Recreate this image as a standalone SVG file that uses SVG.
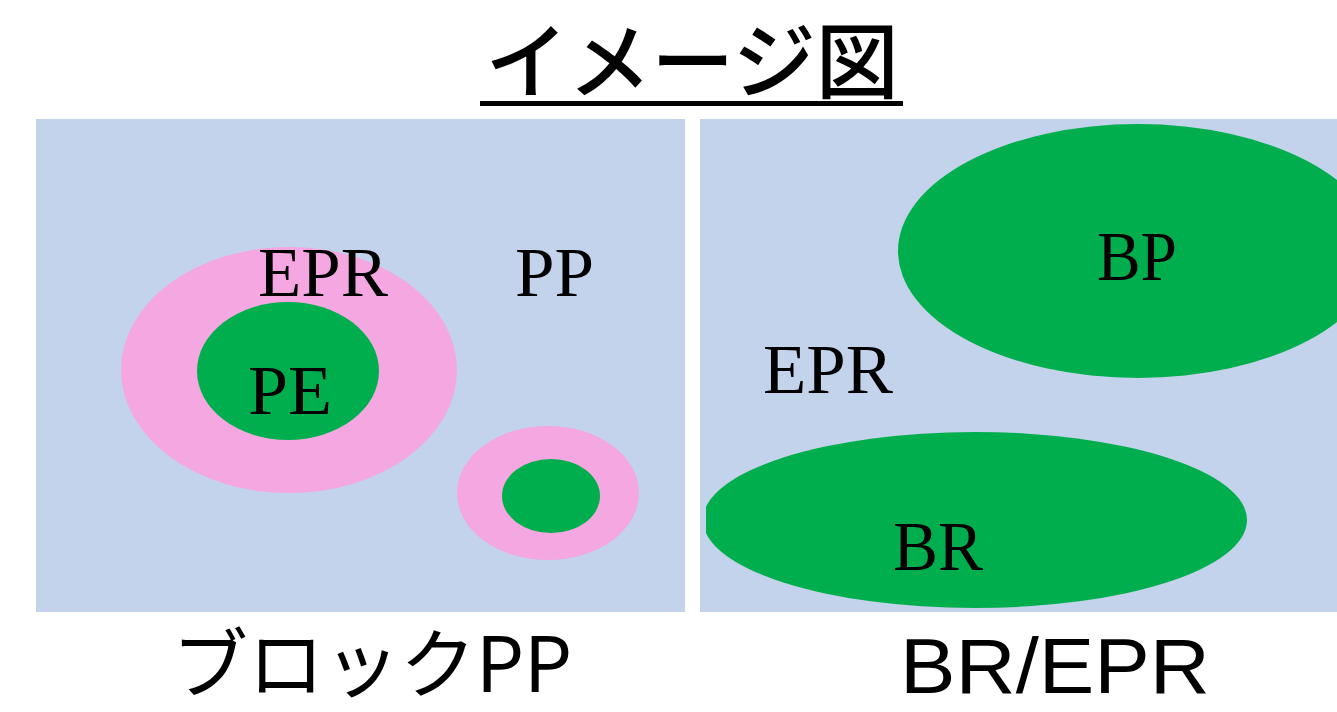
<svg xmlns="http://www.w3.org/2000/svg" width="1337" height="712" viewBox="0 0 1337 712">
<style>
.panel{fill:#c3d3ec}
.pink{fill:#f4a7e1}
.green{fill:#00ae4e}
.lbl{font-family:"Liberation Serif","Times New Roman",serif;font-size:70px;fill:#000}
.cap{font-family:"Noto Sans CJK JP","Noto Sans",sans-serif;font-size:76px;fill:#000}
.capl{font-family:"Liberation Sans",Arial,sans-serif;font-size:78px;fill:#000}
</style>
<defs>
<clipPath id="cr"><rect x="706" y="119" width="631" height="489"/></clipPath>
</defs>
<rect width="1337" height="712" fill="#fff"/>
<g id="title">
<text x="692" y="92" text-anchor="middle" style="font-family:'Noto Sans CJK JP',sans-serif;font-size:83px;font-weight:500">イメージ図</text>
<rect x="480" y="101" width="423" height="5" fill="#000"/>
</g>
<g id="block-pp">
<rect class="panel" x="36" y="119" width="649" height="493"/>
<ellipse class="pink" cx="289" cy="370" rx="168" ry="123"/>
<ellipse class="green" cx="288" cy="371" rx="91" ry="69"/>
<ellipse class="pink" cx="548" cy="493" rx="91" ry="67"/>
<ellipse class="green" cx="551" cy="496" rx="49" ry="37"/>
<text class="lbl" x="258" y="296" textLength="130" lengthAdjust="spacingAndGlyphs">EPR</text>
<text class="lbl" x="515" y="296" textLength="79" lengthAdjust="spacingAndGlyphs">PP</text>
<text class="lbl" x="248" y="414" textLength="84" lengthAdjust="spacingAndGlyphs">PE</text>
<text class="cap" x="372" y="692" text-anchor="middle">ブロックPP</text>
</g>
<g id="br-epr">
<rect class="panel" x="700" y="119" width="637" height="493"/>
<g clip-path="url(#cr)">
<ellipse class="green" cx="1138" cy="251" rx="240" ry="127"/>
<ellipse class="green" cx="975" cy="520" rx="272" ry="88"/>
</g>
<text class="lbl" x="763" y="393" textLength="130" lengthAdjust="spacingAndGlyphs">EPR</text>
<text class="lbl" x="1097" y="280" textLength="80" lengthAdjust="spacingAndGlyphs">BP</text>
<text class="lbl" x="893" y="570" textLength="90" lengthAdjust="spacingAndGlyphs">BR</text>
<text class="capl" x="900" y="693" textLength="310" lengthAdjust="spacingAndGlyphs">BR/EPR</text>
</g>
<g id="connectors"/>
</svg>
